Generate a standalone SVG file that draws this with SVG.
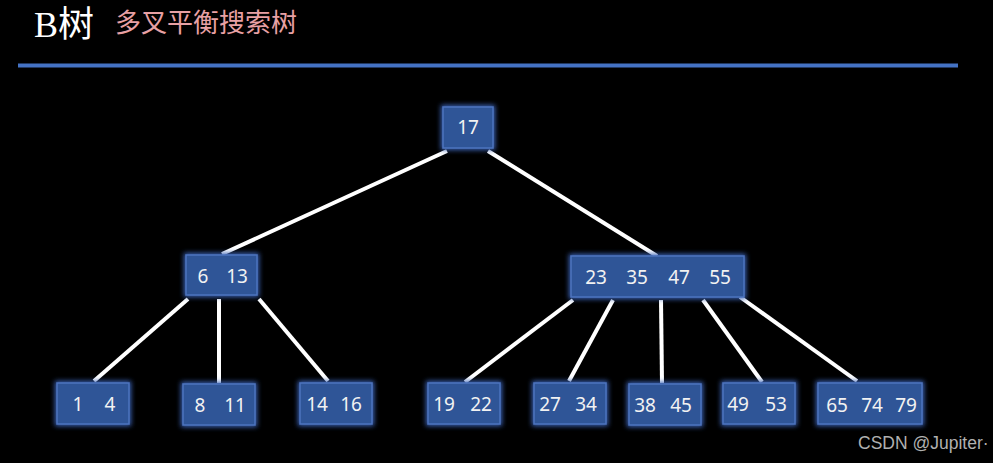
<svg xmlns="http://www.w3.org/2000/svg" width="993" height="463" viewBox="0 0 993 463">
<defs>
<filter id="glow" x="-30%" y="-40%" width="160%" height="180%">
<feGaussianBlur stdDeviation="2.5"/>
</filter>
<style>
.g{fill:#3a64b8;filter:url(#glow)}
.b{fill:#2f5597;stroke:#4d74bf;stroke-width:1.5}
.t{font-family:"Noto Sans","Liberation Sans",sans-serif;font-size:19px;fill:#f2f2f2;text-anchor:middle;dominant-baseline:central}
.e{stroke:#ffffff;stroke-width:4;stroke-linecap:butt}
</style>
</defs>
<rect width="993" height="463" fill="#000"/>
<text x="34" y="37" font-family="Liberation Serif,'Noto Sans CJK SC',serif" font-size="36" fill="#ffffff">B树</text>
<text x="115" y="32" font-family="'Noto Sans CJK SC','Noto Sans',sans-serif" font-size="26" fill="#e8a0a4">多叉平衡搜索树</text>
<rect x="18" y="63.5" width="940" height="4" fill="#4472c4"/>
<g id="connectors">
<line class="e" x1="447" y1="151" x2="222" y2="254"/>
<line class="e" x1="488" y1="151" x2="657" y2="256"/>
<line class="e" x1="188" y1="299" x2="94" y2="381"/>
<line class="e" x1="219" y1="299" x2="219" y2="383"/>
<line class="e" x1="259" y1="299" x2="328" y2="381"/>
<line class="e" x1="573" y1="300" x2="465" y2="382"/>
<line class="e" x1="613" y1="300" x2="569" y2="381"/>
<line class="e" x1="661" y1="300" x2="662" y2="383"/>
<line class="e" x1="703" y1="300" x2="762" y2="382"/>
<line class="e" x1="740" y1="297" x2="857" y2="381"/>
</g>
<g id="n17"><rect class="g" x="441" y="105" width="54" height="45"/><rect class="b" x="443" y="107" width="50" height="41"/><text class="t" x="468" y="127">17</text></g>
<g id="n6_13"><rect class="g" x="184" y="253" width="75" height="44"/><rect class="b" x="186" y="255" width="71" height="40"/><text class="t" x="203" y="276">6</text><text class="t" x="237" y="276">13</text></g>
<g id="n23_55"><rect class="g" x="569" y="254" width="177" height="45"/><rect class="b" x="571" y="256" width="173" height="41"/><text class="t" x="596" y="277">23</text><text class="t" x="637" y="277">35</text><text class="t" x="679" y="277">47</text><text class="t" x="720" y="277">55</text></g>
<g id="n1_4"><rect class="g" x="55" y="381" width="76" height="45"/><rect class="b" x="57" y="383" width="72" height="41"/><text class="t" x="78" y="404">1</text><text class="t" x="110" y="404">4</text></g>
<g id="n8_11"><rect class="g" x="181" y="382" width="76" height="45"/><rect class="b" x="183" y="384" width="72" height="41"/><text class="t" x="200" y="405">8</text><text class="t" x="235" y="405">11</text></g>
<g id="n14_16"><rect class="g" x="298" y="381" width="76" height="45"/><rect class="b" x="300" y="383" width="72" height="41"/><text class="t" x="317" y="404">14</text><text class="t" x="351" y="404">16</text></g>
<g id="n19_22"><rect class="g" x="426" y="381" width="76" height="45"/><rect class="b" x="428" y="383" width="72" height="41"/><text class="t" x="444" y="404">19</text><text class="t" x="481" y="404">22</text></g>
<g id="n27_34"><rect class="g" x="532" y="381" width="76" height="45"/><rect class="b" x="534" y="383" width="72" height="41"/><text class="t" x="550" y="404">27</text><text class="t" x="586" y="404">34</text></g>
<g id="n38_45"><rect class="g" x="627" y="382" width="76" height="45"/><rect class="b" x="629" y="384" width="72" height="41"/><text class="t" x="645" y="405">38</text><text class="t" x="681" y="405">45</text></g>
<g id="n49_53"><rect class="g" x="721" y="381" width="76" height="45"/><rect class="b" x="723" y="383" width="72" height="41"/><text class="t" x="738" y="404">49</text><text class="t" x="776" y="404">53</text></g>
<g id="n65_79"><rect class="g" x="816" y="381" width="108" height="45"/><rect class="b" x="818" y="383" width="104" height="41"/><text class="t" x="837" y="405">65</text><text class="t" x="872" y="405">74</text><text class="t" x="906" y="405">79</text></g>
<text x="858" y="449" font-family="'Liberation Sans',sans-serif" font-size="17.5" fill="#b0b0b0">CSDN @Jupiter·</text>
</svg>
